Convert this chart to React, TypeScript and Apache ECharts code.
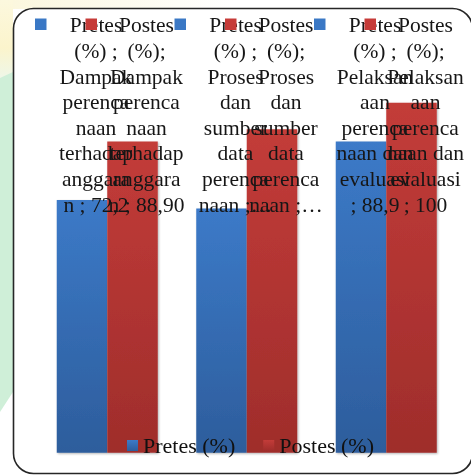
import React, { useEffect, useRef } from "react";
import * as echarts from "echarts";

const categories = [
  "Dampak perencanaan terhadap anggaran",
  "Proses dan sumber data perencanaan",
  "Pelaksanaan perencanaan dan evaluasi",
];
const seriesNames = ["Pretes (%)", "Postes (%)"];
const labelNames = ["Pretes (%) ;", "Postes (%);"];
const pretesValues = [72.2, 69.8, 88.9];
const postesValues = [88.9, 92.4, 100];
const pretesValueText = ["72,2", "69,8", "88,9"];
const postesValueText = ["88,90", "92,4", "100"];

const FONT = '"Liberation Serif", "Times New Roman", serif';
const LABEL_SIZE = 21.5;
const WRAP_W = 77.3;
const MAX_LINES = 8;

function wrapExcel(text: string, measure: (s: string) => number): string[] {
  const words = text.split(" ");
  const lines: string[] = [];
  let cur = "";
  for (let w of words) {
    const cand = cur ? cur + " " + w : w;
    if (measure(cand) <= WRAP_W) {
      cur = cand;
      continue;
    }
    if (cur) lines.push(cur);
    cur = "";
    while (measure(w) > WRAP_W) {
      let k = w.length - 1;
      while (k > 1 && measure(w.slice(0, k)) > WRAP_W) k--;
      lines.push(w.slice(0, k));
      w = w.slice(k);
    }
    cur = w;
  }
  if (cur) lines.push(cur);
  if (lines.length > MAX_LINES) {
    const cut = lines.slice(0, MAX_LINES);
    cut[MAX_LINES - 1] = cut[MAX_LINES - 1] + "…";
    return cut;
  }
  return lines;
}

const blueGrad = () =>
  new echarts.graphic.LinearGradient(0, 0, 0, 1, [
    { offset: 0, color: "#3c7ac8" },
    { offset: 1, color: "#2d5d9c" },
  ]);
const redGrad = () =>
  new echarts.graphic.LinearGradient(0, 0, 0, 1, [
    { offset: 0, color: "#c33c39" },
    { offset: 1, color: "#9f2d2b" },
  ]);

export default function App() {
  const ref = useRef<HTMLDivElement>(null);
  useEffect(() => {
    if (!ref.current) return;
    const chart = echarts.init(ref.current, undefined, { renderer: "svg" });
    const shadow = {
      shadowBlur: 2,
      shadowColor: "rgba(0,0,0,0.3)",
      shadowOffsetX: 1,
      shadowOffsetY: 1,
    };
    const background: any[] = [
      {
        type: "rect",
        z: -20,
        shape: { x: 0, y: 0, width: 13, height: 80 },
        style: {
          fill: new echarts.graphic.LinearGradient(0, 0, 0, 1, [
            { offset: 0, color: "#fcf8de" },
            { offset: 0.6, color: "#fbf4cc" },
            { offset: 1, color: "#eef7ea" },
          ]),
        },
      },
      {
        type: "rect",
        z: -20,
        shape: { x: 13, y: 0, width: 220, height: 9 },
        style: {
          fill: new echarts.graphic.LinearGradient(0, 0, 1, 0, [
            { offset: 0, color: "#fbf7de" },
            { offset: 1, color: "#ffffff" },
          ]),
        },
      },
      {
        type: "polygon",
        z: -20,
        shape: { points: [[0, 78], [13, 72], [13, 392], [0, 412]] },
        style: { fill: "#cfefd8" },
      },
      {
        type: "rect",
        z: -5,
        shape: { x: 13.5, y: 8.5, width: 459, height: 465, r: 20 },
        style: { fill: "#ffffff", stroke: "#262626", lineWidth: 1.6 },
      },
    ];
    chart.setOption({
      animation: false,
      backgroundColor: "transparent",
      grid: { left: 37.5, right: 15, top: 102.7, bottom: 22.3 },
      xAxis: { type: "category", data: categories, show: false },
      yAxis: { type: "value", min: 0, max: 100, show: false },
      legend: {
        data: seriesNames,
        left: 127,
        top: 434.5,
        icon: "rect",
        itemWidth: 11,
        itemHeight: 11,
        itemGap: 28,
        padding: 0,
        textStyle: { fontSize: 22, fontFamily: FONT, color: "#111" },
      },
      series: [
        {
          name: seriesNames[0],
          type: "bar",
          data: pretesValues,
          barWidth: 50.5,
          barGap: "0%",
          itemStyle: { color: blueGrad(), ...shadow },
        },
        {
          name: seriesNames[1],
          type: "bar",
          data: postesValues,
          barWidth: 50.5,
          barGap: "0%",
          itemStyle: { color: redGrad(), ...shadow },
        },
      ],
      graphic: background,
    });

    const canvas = document.createElement("canvas");
    const ctx = canvas.getContext("2d")!;
    ctx.font = `${LABEL_SIZE}px ${FONT}`;
    const measure = (s: string) => ctx.measureText(s).width;

    const valueTexts = [pretesValueText, postesValueText];
    const keyColors = ["#3a78c5", "#c63b38"];
    const labels: any[] = [];
    for (let s = 0; s < 2; s++) {
      for (let i = 0; i < categories.length; i++) {
        let cx: number;
        try {
          const layout = (chart as any)
            .getModel()
            .getSeriesByIndex(s)
            .getData()
            .getItemLayout(i);
          cx = layout.x + layout.width / 2;
        } catch (e) {
          const c = chart.convertToPixel({ xAxisIndex: 0 }, i) as number;
          cx = c + (s === 0 ? -25.25 : 25.25);
        }
        const text = `${labelNames[s]} ${categories[i]} ; ${valueTexts[s][i]}`;
        const lines = wrapExcel(text, measure);
        labels.push({
          type: "group",
          z: 10 + s,
          children: [
            {
              type: "rect",
              z: 10 + s,
              shape: { x: cx - 47, y: 18.5, width: 11.5, height: 11.5 },
              style: { fill: keyColors[s] },
            },
            {
              type: "text",
              z: 10 + s,
              x: cx + 14,
              y: 12.6,
              style: {
                text: lines.join("\n"),
                fontSize: LABEL_SIZE,
                fontFamily: FONT,
                lineHeight: 25.6,
                fill: "#161616",
                align: "center",
                verticalAlign: "top",
              },
            },
          ],
        });
      }
    }
    chart.setOption({ graphic: [...background, ...labels] });
    return () => chart.dispose();
  }, []);
  return (
    <div
      ref={ref}
      style={{ position: "fixed", left: 0, top: 0, width: 471, height: 475 }}
    />
  );
}
